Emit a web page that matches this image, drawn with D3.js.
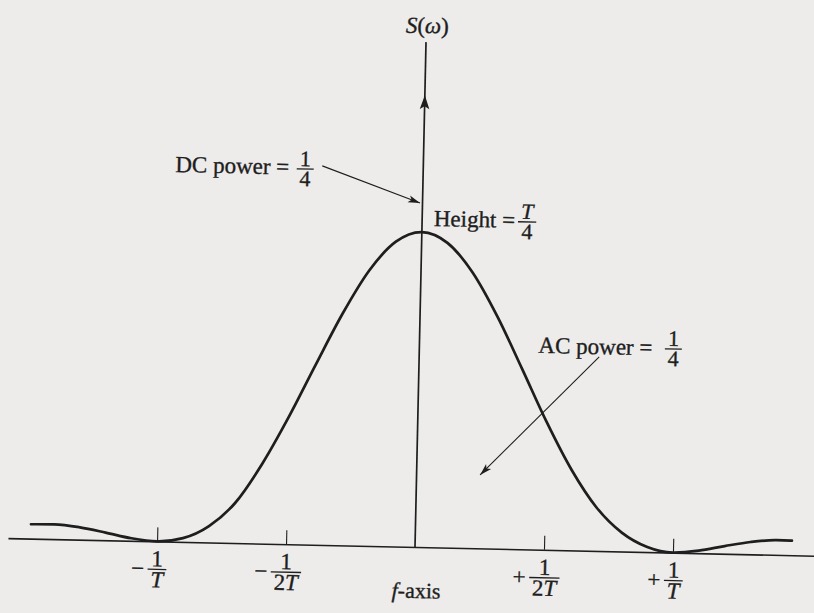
<!DOCTYPE html>
<html>
<head>
<meta charset="utf-8">
<script src="https://cdn.jsdelivr.net/npm/d3@7"></script>
<style>
  html, body { margin: 0; padding: 0; background: #edecea; }
  svg { display: block; }
  text { font-family: "Liberation Serif", "Times New Roman", serif; fill: #1e1e1e; stroke: #1e1e1e; stroke-width: 0.35px; }
</style>
</head>
<body>
<svg id="chart" width="814" height="613"></svg>
<script>
// Tick positions on the frequency axis (units of 1/T) and their labels
const tickFreqs = [-1, -0.5, 0.5, 1];
const tickSigns = ["\u2212", "\u2212", "+", "+"];
const tickNumerators = ["1", "1", "1", "1"];
const tickDenominators = ["T", "2T", "2T", "T"];

// Power spectral density S(f) in units of T, sampled in f (units of 1/T)
const curveFreqs = [-1.49, -1.4, -1.3, -1.2, -1.1, -1.0, -0.9, -0.8, -0.7, -0.6, -0.5, -0.4, -0.3, -0.2, -0.1,
                    0, 0.1, 0.2, 0.3, 0.4, 0.5, 0.6, 0.7, 0.8, 0.9, 1.0, 1.1, 1.2, 1.3, 1.4, 1.46];
const curveValues = [0.0114, 0.0117, 0.0098, 0.0061, 0.0020, 0, 0.0030, 0.0130, 0.0320, 0.0630, 0.1010, 0.1430, 0.1840, 0.2188, 0.2419,
                     0.25, 0.2419, 0.2188, 0.1842, 0.1432, 0.1013, 0.0640, 0.0345, 0.0150, 0.0040, 0, 0.0020, 0.0061, 0.0098, 0.0117, 0.0116];

// Annotation text
const noteLabels = ["DC power =", "Height =", "AC power ="];
const noteNumerators = ["1", "T", "1"];
const noteDenominators = ["4", "4", "4"];

const ink = "#1e1e1e";
const origin = { x: 415, y: 547 };
const tilt = 1.25;

const svg = d3.select("#chart");
svg.append("rect").attr("width", 814).attr("height", 613).attr("fill", "#edecea");

const g = svg.append("g").attr("transform", `rotate(${tilt},${origin.x},${origin.y})`);

const x = d3.scaleLinear().domain([-1, 1]).range([origin.x - 258, origin.x + 258]);
const y = d3.scaleLinear().domain([0, 0.25]).range([origin.y, origin.y - 315]);

// Horizontal frequency axis with upward ticks
const axisLo = -1.578, axisHi = 1.66;
const xAxisScale = d3.scaleLinear().domain([axisLo, axisHi]).range([x(axisLo), x(axisHi)]);
const axisG = g.append("g")
  .attr("transform", `translate(0,${origin.y})`)
  .call(d3.axisTop(xAxisScale).tickValues(tickFreqs).tickSize(14).tickSizeOuter(0).tickFormat(""));
axisG.select(".domain").attr("stroke", ink).attr("stroke-width", 1.6);
axisG.selectAll(".tick line").attr("stroke", ink).attr("stroke-width", 1.1);

// Vertical S axis with an arrowhead partway up
const sTop = 0.4008, sArrow = 0.3587;
g.append("line")
  .attr("x1", x(0)).attr("x2", x(0))
  .attr("y1", y(0)).attr("y2", y(sTop))
  .attr("stroke", ink).attr("stroke-width", 1.7);
{
  const tx = x(0), ty = y(sArrow);
  g.append("path")
    .attr("d", `M${tx},${ty} L${tx + 4.8},${ty + 14} L${tx},${ty + 11} L${tx - 4.8},${ty + 14} Z`)
    .attr("fill", ink);
}

// Spectrum curve
const pts = curveFreqs.map((f, i) => [x(f), y(curveValues[i])]);
g.append("path")
  .attr("d", d3.line().curve(d3.curveMonotoneX)(pts))
  .attr("fill", "none")
  .attr("stroke", ink)
  .attr("stroke-width", 2.7)
  .attr("stroke-linecap", "round");

// Fraction helper: numerator, bar, denominator centred on cx
function fraction(parent, cx, barY, num, den, size) {
  const fg = parent.append("g");
  const addParts = (t, s) => {
    for (const ch of s) {
      t.append("tspan").style("font-style", /[A-Za-z]/.test(ch) ? "italic" : "normal").text(ch);
    }
  };
  const n = fg.append("text").attr("x", cx).attr("y", barY - 3)
    .attr("text-anchor", "middle").style("font-size", size + "px");
  addParts(n, num);
  const d = fg.append("text").attr("x", cx).attr("y", barY + size * 0.78)
    .attr("text-anchor", "middle").style("font-size", size + "px");
  addParts(d, den);
  const w = Math.max(n.node().getComputedTextLength(), d.node().getComputedTextLength()) + 6;
  fg.append("line")
    .attr("x1", cx - w / 2).attr("x2", cx + w / 2)
    .attr("y1", barY).attr("y2", barY)
    .attr("stroke", ink).attr("stroke-width", 1.3);
  return w;
}

// Tick labels
tickFreqs.forEach((f, i) => {
  const cx = x(f) + (f > 0 ? 1 : 0.5);
  const barY = origin.y + 28;
  const w = fraction(g, cx, barY, tickNumerators[i], tickDenominators[i], 23);
  g.append("text")
    .attr("x", cx - w / 2 - 10).attr("y", barY + 7)
    .attr("text-anchor", "middle")
    .style("font-size", "23px")
    .text(tickSigns[i]);
});

// Axis titles
g.append("text")
  .attr("x", x(0) + 1).attr("y", 33)
  .attr("text-anchor", "middle")
  .style("font-size", "23px")
  .call(t => {
    t.append("tspan").style("font-style", "italic").text("S");
    t.append("tspan").text("(");
    t.append("tspan").style("font-style", "italic").text("\u03C9");
    t.append("tspan").text(")");
  });

g.append("text")
  .attr("x", x(0) + 2).attr("y", 598)
  .attr("text-anchor", "middle")
  .style("font-size", "22px")
  .call(t => {
    t.append("tspan").style("font-style", "italic").text("f");
    t.append("tspan").text("-axis");
  });

// Annotations: label text end, baseline, fraction centre, fraction bar
const notePlaces = [
  { endX: 281, baseY: 177.3, fx: 297, barY: 171.5 },
  { endX: 508, baseY: 225.7, fx: 520, barY: 219.6 },
  { endX: 648, baseY: 350.2, fx: 669, barY: 343.4 }
];
noteLabels.forEach((lab, i) => {
  const p = notePlaces[i];
  g.append("text")
    .attr("x", p.endX).attr("y", p.baseY)
    .attr("text-anchor", "end")
    .style("font-size", "23px")
    .text(lab);
  fraction(g, p.fx, p.barY, noteNumerators[i], noteDenominators[i], 22);
});

// Leader arrows
function arrow(x1, y1, x2, y2) {
  g.append("line")
    .attr("x1", x1).attr("y1", y1).attr("x2", x2).attr("y2", y2)
    .attr("stroke", ink).attr("stroke-width", 1.1);
  const a = Math.atan2(y2 - y1, x2 - x1);
  const L = 12, Wd = 3.6, notch = 9;
  const bx = x2 - L * Math.cos(a), by = y2 - L * Math.sin(a);
  const nx = x2 - notch * Math.cos(a), ny = y2 - notch * Math.sin(a);
  const px = -Math.sin(a) * Wd, py = Math.cos(a) * Wd;
  g.append("path")
    .attr("d", `M${x2},${y2} L${bx + px},${by + py} L${nx},${ny} L${bx - px},${by - py} Z`)
    .attr("fill", ink);
}
arrow(314, 168, 412.5, 203);
arrow(595, 353, 478.5, 473.5);
</script>
</body>
</html>
